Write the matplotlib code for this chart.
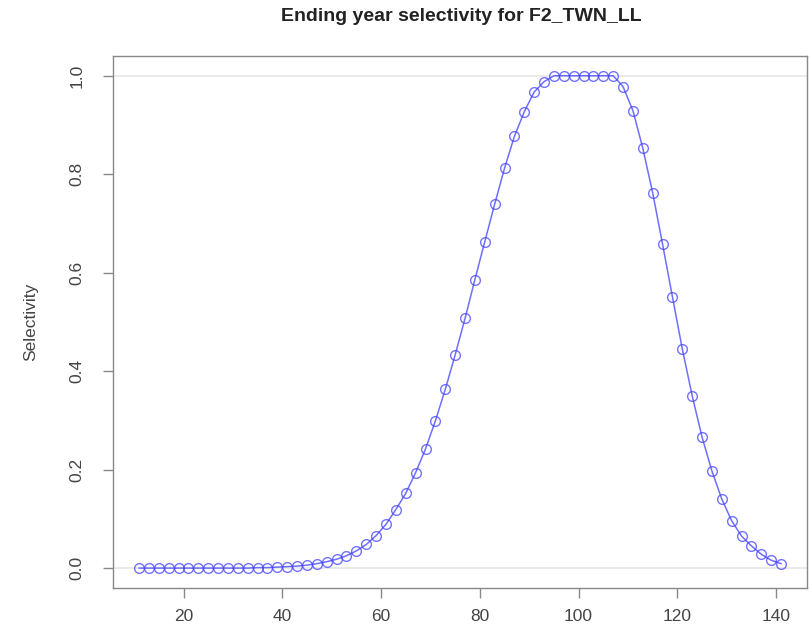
import matplotlib
matplotlib.use("Agg")
import matplotlib.pyplot as plt
import numpy as np

lengths = list(range(11, 142, 2))
selectivity = [
    0.0, 0.0, 0.0, 0.0, 0.0, 0.0, 0.0, 0.0, 0.0, 0.0, 0.0, 0.0,  # 11-33
    0.001, 0.001, 0.002, 0.003, 0.004, 0.006, 0.009, 0.013,        # 35-49
    0.018, 0.025, 0.035, 0.048, 0.066, 0.089, 0.119, 0.152,        # 51-65
    0.194, 0.242, 0.299, 0.363, 0.433, 0.507, 0.586, 0.663,        # 67-81
    0.739, 0.812, 0.877, 0.927, 0.967, 0.988,                      # 83-93
    1.0, 1.0, 1.0, 1.0, 1.0, 1.0, 1.0,                             # 95-107
    0.978, 0.929, 0.853, 0.762, 0.658, 0.551, 0.445, 0.350,        # 109-123
    0.266, 0.197, 0.140, 0.096, 0.065, 0.045, 0.028, 0.016, 0.009, # 125-141
]
xticks = [20, 40, 60, 80, 100, 120, 140]
yticks = [0.0, 0.2, 0.4, 0.6, 0.8, 1.0]
title = "Ending year selectivity for F2_TWN_LL"
ylabel = "Selectivity"

plt.rcParams['font.family'] = ['Liberation Sans', 'DejaVu Sans']

fig = plt.figure(figsize=(8.1, 6.3), dpi=100)
ax = fig.add_axes([0.140, 0.067, 0.856, 0.844])

ax.axhline(0, color='#e6e6e6', lw=1.2, zorder=1)
ax.axhline(1, color='#e6e6e6', lw=1.2, zorder=1)

ax.plot(lengths, selectivity, color='#5555ff', lw=1.1, alpha=0.85, zorder=2)
ax.plot(lengths, selectivity, ls='none', marker='o', ms=7, mfc='none',
        mec='#4444ff', mew=1.0, alpha=0.75, zorder=3)

xmin, xmax = min(lengths), max(lengths)
xr = xmax - xmin
ax.set_xlim(xmin - 0.04 * xr, xmax + 0.04 * xr)
ax.set_ylim(-0.04, 1.04)

ax.set_xticks(xticks)
ax.set_xticklabels([str(t) for t in xticks])
ax.set_yticks(yticks)
ax.set_yticklabels([f"{t:.1f}" for t in yticks], rotation=90, va='center')

for s in ax.spines.values():
    s.set_color('#888888')
    s.set_linewidth(1.0)

ax.tick_params(axis='both', direction='out', length=7, width=1.0,
               color='#888888', labelcolor='#444444', labelsize=12.5)
ax.tick_params(axis='x', pad=8)
ax.tick_params(axis='y', pad=14)

ax.set_ylabel(ylabel, fontsize=12.5, color='#444444', labelpad=22)
fig.text(0.569, 0.9735, title, ha='center', va='center', fontsize=14,
         fontweight='bold', color='#222222')

fig.savefig("out.png", dpi=100)
